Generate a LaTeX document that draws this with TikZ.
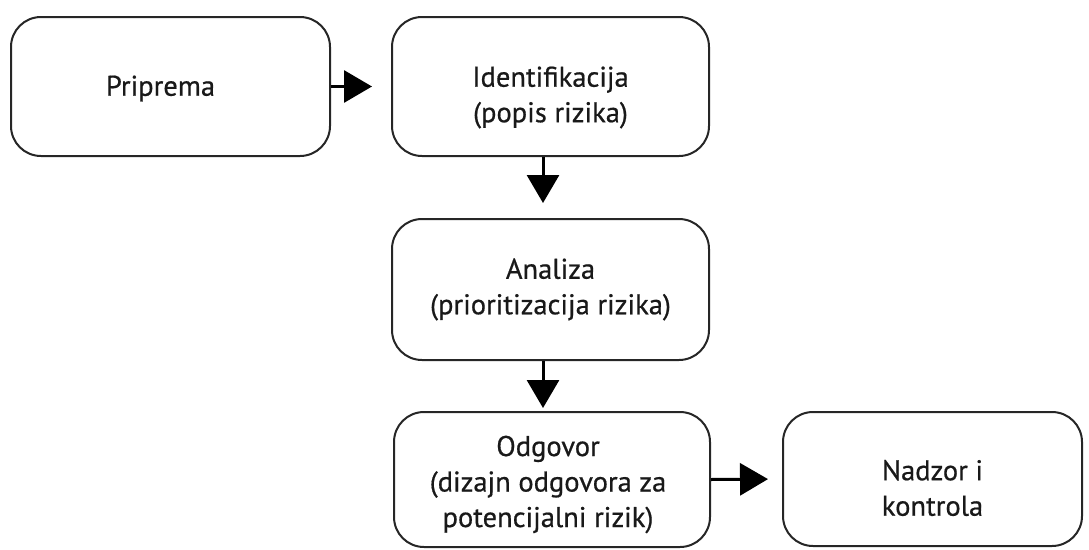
\documentclass[tikz,border=0pt]{standalone}
\usepackage{fontspec}
\newfontfamily\boxfont[FakeBold=0.6]{PT Sans}
\usetikzlibrary{arrows.meta}
\begin{document}
\begin{tikzpicture}[x=1pt,y=-1pt,
  box/.style={draw=black!85, line width=2pt, rounded corners=30pt, inner sep=0pt},
  txt/.style={align=center, font=\boxfont\fontsize{28.5}{35.5}\selectfont, inner sep=0pt, text=black!90},
  arr/.style={line width=3pt, -{Triangle[length=28pt,width=32pt]}}]
\useasboundingbox (0,0) rectangle (1089,549);
\node[box, minimum width=319pt, minimum height=139pt] (A) at (170.5,86.5) {};
\node[box, minimum width=317pt, minimum height=139pt] (B) at (550.5,86.5) {};
\node[box, minimum width=317pt, minimum height=141pt] (C) at (550.5,289.5) {};
\node[box, minimum width=316pt, minimum height=135pt] (D) at (552,479.5) {};
\node[box, minimum width=299pt, minimum height=134pt] (E) at (932.5,479) {};
\node[txt] (At) at ([xshift=-10pt,yshift=-2pt]A.center) {Priprema};
\node[txt] (Bt) at ([yshift=-11pt]B.center) {Identifikacija\\(popis rizika)};
\node[txt] (Ct) at ([yshift=0pt]C.center) {Analiza\\(prioritizacija rizika)};
\node[txt] (Dt) at ([xshift=-4pt,yshift=-5pt]D.center) {Odgovor\\(dizajn odgovora za\\potencijalni rizik)};
\node[txt] (Et) at ([yshift=-9pt]E.center) {Nadzor i\\kontrola};
\draw[arr, shorten >=19pt] (A.east) -- (B.west);
\draw[arr, shorten >=15pt] ([xshift=-7.5pt]B.south) -- ([xshift=-7.5pt]C.north);
\draw[arr, shorten >=3pt] ([xshift=-7.5pt]C.south) -- ([xshift=-7.5pt]C.south |- D.north);
\draw[arr, shorten >=14pt] (D.east) -- (E.west);
\end{tikzpicture}
\end{document}
